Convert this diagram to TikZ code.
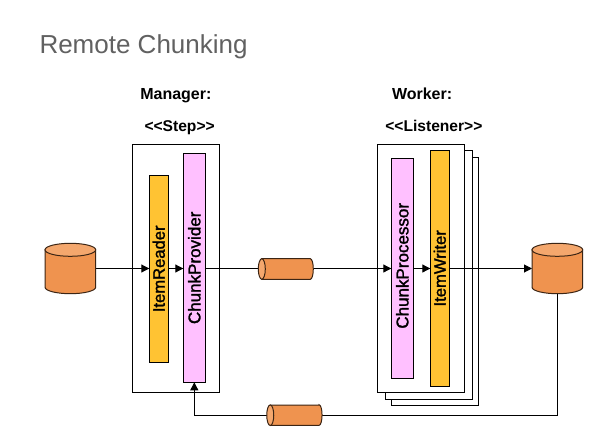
\documentclass[tikz,border=0pt]{standalone}
\usepackage{fontspec}
\setmainfont{Liberation Sans}
\newfontfamily\labelfont[FakeBold=1.6]{Liberation Sans}
\usetikzlibrary{arrows.meta,calc}
\definecolor{cylbody}{HTML}{EF934F}
\definecolor{cyltop}{HTML}{F4A76D}
\definecolor{pinkbar}{HTML}{FFC0FF}
\definecolor{yellowbar}{HTML}{FFC333}
\tikzset{
  box/.style={draw=black,fill=white,line width=1pt,inner sep=0pt,outer sep=0pt},
  pinkcomp/.style={box,fill=pinkbar,rotate=90,font=\labelfont\fontsize{17}{17}\selectfont},
  yellowcomp/.style={box,fill=yellowbar,rotate=90,font=\labelfont\fontsize{16.6}{16.6}\selectfont},
  shapeholder/.style={inner sep=0pt,outer sep=0pt,draw=none},
  caption/.style={inner sep=0pt,outer sep=0pt,anchor=base west,font=\bfseries\fontsize{16}{16}\selectfont},
  stereotype/.style={caption,font=\bfseries\fontsize{15.6}{15.6}\selectfont},
  flow/.style={line width=1pt,draw=black,-{Triangle[length=8pt,width=8pt]}},
  plainflow/.style={line width=1pt,draw=black},
  shapeline/.style={draw=black!75!cylbody,line width=1pt}
}
% upright cylinder, drawn in the named holder
\newcommand{\dbdrum}[1]{%
  \path[shapeline,fill=cylbody]
    (#1.north west) ++(0,6.5) -- ++(0,37.4)
    arc[start angle=180,end angle=0,x radius=25.35,y radius=6.5]
    -- ++(0,-37.4) -- cycle;
  \path[shapeline,fill=cyltop]
    (#1.north west) ++(25.35,6.5) ellipse[x radius=25.35,y radius=6.5];
}
% lying cylinder, its visible end to the left
\newcommand{\queuedrum}[1]{%
  \path[shapeline,fill=cylbody]
    ($(#1.north east)+(-3,0)$) -- ($(#1.north west)+(3.5,0)$)
    -- ($(#1.south west)+(3.5,0)$) -- ($(#1.south east)+(-3,0)$)
    arc[start angle=90,end angle=-90,x radius=3,y radius=10.3] -- cycle;
  \path[shapeline,fill=cyltop]
    ($(#1.west)+(3.5,0)$) ellipse[x radius=3.5,y radius=10.3];
}
\begin{document}
\begin{tikzpicture}[x=1pt,y=-1pt]
\useasboundingbox[fill=white] (0,0) rectangle (612,439);

\node[inner sep=0pt,outer sep=0pt,anchor=base west,text=black!62,font=\fontsize{26}{26}\selectfont] (title) at (39.5,53) {Remote Chunking};
\node[caption] (manager) at (140.3,99) {Manager:};
\node[caption] (worker) at (392,99) {Worker:};
\node[stereotype] (step) at (144.5,131.7) {<{}<{}Step>{}>};
\node[stereotype] (listener) at (385.3,131.7) {<{}<{}Listener>{}>};

\node[box,minimum width=87pt,minimum height=248pt] (stepbox) at (175.8,268.3) {};
\node[box,minimum width=87.4pt,minimum height=248pt] (back) at (435,281.3) {};
\node[box,minimum width=87.4pt,minimum height=249pt] (mid) at (429,274.8) {};
\node[box,minimum width=87.4pt,minimum height=248pt] (front) at (421,268.3) {};

\node[yellowcomp,minimum width=187pt,minimum height=19pt] (reader) at (158.8,268.8) {ItemReader};
\node[pinkcomp,minimum width=229pt,minimum height=22pt] (provider) at (194.3,267.8) {ChunkProvider};
\node[pinkcomp,minimum width=220pt,minimum height=22pt] (processor) at (402.3,268.3) {\hspace*{5pt}ChunkProcessor};
\node[yellowcomp,minimum width=236pt,minimum height=19pt] (writer) at (439.8,268.3) {ItemWriter};

\node[shapeholder,minimum width=50.7pt,minimum height=50.4pt] (source) at (70.35,268.5) {};
\node[shapeholder,minimum width=50.7pt,minimum height=50.4pt] (sink) at (557.35,268.5) {};
\node[shapeholder,minimum width=55pt,minimum height=20.6pt] (queueout) at (285.8,269) {};
\node[shapeholder,minimum width=55.3pt,minimum height=20.3pt] (queueback) at (294.4,415.2) {};

\draw[flow] (source.east) -- (reader.north |- source.east);
\draw[flow] (reader.south |- source.east) -- (provider.north |- source.east);
\draw[plainflow] (provider.south |- source.east) -- (queueout.west |- source.east);
\draw[flow] (queueout.east |- source.east) -- (processor.north |- source.east);
\draw[flow] (processor.south |- source.east) -- (writer.north |- source.east);
\draw[flow] (writer.south |- source.east) -- (sink.west);
\draw[plainflow] (sink.south) |- (queueback.east);
\draw[flow] (queueback.west) -| (provider.west);

\dbdrum{source}
\dbdrum{sink}
\queuedrum{queueout}
\queuedrum{queueback}
\end{tikzpicture}
\end{document}
